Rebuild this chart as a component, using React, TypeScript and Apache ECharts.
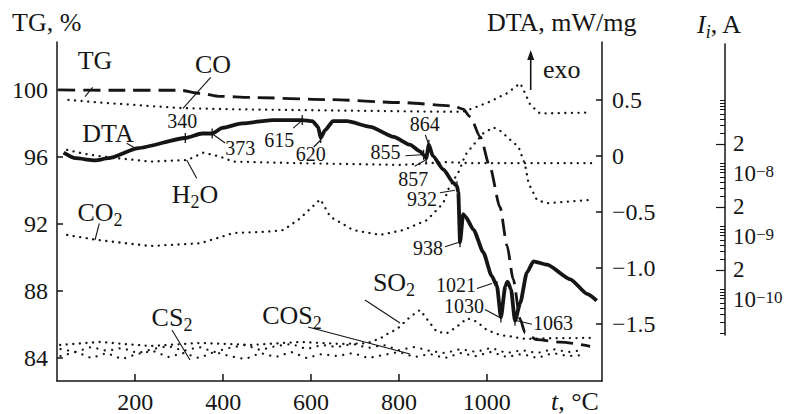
import React, { useEffect, useRef } from 'react';
import * as echarts from 'echarts';

const FONT = '"Liberation Serif", "Times New Roman", serif';
const INK = '#151515';

// ---- axis ticks ----
const xTicks = [200, 400, 600, 800, 1000];
const tgTicks = [84, 88, 92, 96, 100];
const dtaTicks = [-1.5, -1.0, -0.5, 0, 0.5];
const currentDecadeLabels = [-10, -9, -8];
const currentTwoTicks = [2e-10, 2e-9, 2e-8];
const currentMinorDecades = [-11, -10, -9, -8, -7];
const currentMultipliers = [1, 2, 3, 4, 5, 6, 7, 8, 9];

// ---- TG (%) ----
const tgTemp = [25, 143, 302, 348, 393, 462, 643, 803, 924, 946, 962, 985, 1007, 1030, 1046, 1060, 1076, 1087, 1114, 1167, 1235];
const tgValue = [100, 99.98, 99.98, 99.8, 99.62, 99.55, 99.42, 99.25, 99.05, 98.85, 98.4, 97.2, 95.4, 93.0, 90.7, 88.7, 86.3, 85.5, 85.1, 84.95, 84.7];

// ---- DTA (mW/mg) ----
const dtaTemp = [37, 64, 109, 139, 207, 314, 352, 375, 398, 443, 512, 580, 603, 616, 622, 632, 650, 682, 735, 788, 825, 848, 856, 862, 868, 877, 901, 924, 932, 935, 939, 946, 951, 970, 992, 1011, 1023, 1032, 1042, 1047, 1055, 1064, 1076, 1091, 1106, 1137, 1190, 1228, 1250];
const dtaValue = [0.03, -0.02, -0.04, -0.02, 0.07, 0.16, 0.2, 0.2, 0.25, 0.29, 0.32, 0.32, 0.31, 0.26, 0.16, 0.23, 0.31, 0.31, 0.26, 0.17, 0.1, 0.04, 0.01, -0.02, 0.1, 0.0, -0.12, -0.24, -0.27, -0.32, -0.77, -0.52, -0.54, -0.66, -0.86, -1.07, -1.16, -1.44, -1.16, -1.12, -1.19, -1.47, -1.31, -1.04, -0.94, -0.97, -1.1, -1.23, -1.29];

// ---- ion currents I_i (A) ----
const coTemp = [48, 120, 234, 309, 423, 650, 894, 946, 969, 1007, 1046, 1076, 1087, 1099, 1121, 1235];
const coCurrent = [1.0e-7, 9.1e-8, 8.0e-8, 7.4e-8, 7.1e-8, 6.8e-8, 6.5e-8, 6.5e-8, 7.4e-8, 9.4e-8, 1.28e-7, 1.84e-7, 1.28e-7, 8.3e-8, 6.1e-8, 6.3e-8];

const h2oTemp = [45, 86, 127, 234, 318, 355, 393, 423, 575, 803, 909, 962, 1242];
const h2oCurrent = [1.61e-8, 1.39e-8, 1.26e-8, 1.05e-8, 1.11e-8, 1.46e-8, 1.26e-8, 1.05e-8, 9.9e-9, 9.3e-9, 1.03e-8, 9.9e-9, 9.9e-9];

const co2Temp = [45, 113, 234, 348, 423, 500, 537, 575, 621, 644, 696, 757, 810, 864, 901, 913, 937, 951, 966, 992, 1015, 1034, 1049, 1072, 1087, 1095, 1114, 1137, 1235];
const co2Current = [7.2e-10, 6.0e-10, 4.8e-10, 5.3e-10, 7.7e-10, 8.1e-10, 8.6e-10, 1.32e-9, 2.65e-9, 1.4e-9, 8.6e-10, 7.2e-10, 8.6e-10, 1.24e-9, 2.31e-9, 3.9e-9, 7.5e-9, 1.34e-8, 1.81e-8, 2.96e-8, 3.68e-8, 3.13e-8, 2.46e-8, 1.81e-8, 9.3e-9, 4.75e-9, 2.58e-9, 2.29e-9, 2.58e-9];

const so2Temp = [29, 120, 234, 348, 462, 575, 666, 727, 758, 776, 795, 826, 848, 871, 886, 909, 932, 955, 977, 1000, 1030, 1057, 1087, 1144, 1235];
const so2Current = [1.29e-11, 1.44e-11, 1.24e-11, 1.39e-11, 1.29e-11, 1.44e-11, 1.34e-11, 1.37e-11, 1.65e-11, 1.98e-11, 2.29e-11, 3.63e-11, 4.64e-11, 2.85e-11, 2.1e-11, 1.98e-11, 2.52e-11, 3.42e-11, 3.02e-11, 2.23e-11, 1.86e-11, 1.75e-11, 1.61e-11, 1.65e-11, 1.67e-11];

const baseTemp = [30, 65, 100, 135, 170, 205, 240, 275, 310, 345, 380, 415, 450, 485, 520, 555, 590, 625, 660, 695, 730, 765, 800, 835, 870, 905, 940, 975, 1010, 1045, 1080, 1115, 1150, 1185, 1220];
const cos2Current = [1.11e-11, 1.0e-11, 1.2e-11, 1.04e-11, 1.16e-11, 9.6e-12, 1.11e-11, 1.24e-11, 1.04e-11, 1.2e-11, 1.0e-11, 1.16e-11, 1.29e-11, 1.07e-11, 1.24e-11, 1.34e-11, 1.11e-11, 1.29e-11, 1.2e-11, 1.34e-11, 1.16e-11, 1.29e-11, 1.07e-11, 1.2e-11, 1.04e-11, 9.6e-12, 1.11e-11, 1.0e-11, 1.16e-11, 9.6e-12, 1.07e-11, 9.6e-12, 1.11e-11, 1.0e-11, 1.07e-11];
const cs2Current = [8.6e-12, 1.0e-11, 8.0e-12, 9.6e-12, 7.7e-12, 9.3e-12, 1.04e-11, 8.3e-12, 9.6e-12, 8.0e-12, 1.0e-11, 8.6e-12, 7.7e-12, 9.6e-12, 8.3e-12, 1.0e-11, 8.0e-12, 9.3e-12, 8.6e-12, 9.6e-12, 8.0e-12, 8.95e-12, 1.0e-11, 8.3e-12, 9.3e-12, 8.0e-12, 9.6e-12, 8.6e-12, 1.0e-11, 8.3e-12, 9.3e-12, 8.0e-12, 9.6e-12, 8.6e-12, 8.95e-12];

// ---- DTA temperature annotations (anchor = index into dta arrays) ----
const dtaNoteLabels = ['340', '373', '615', '620', '855', '857', '864', '932', '938', '1021', '1030', '1063'];
const dtaNoteAnchor = [5, 7, 11, 14, 22, 23, 24, 28, 30, 36, 37, 41];
// layout: text offset [dx, dy] and leader [x1, y1, x2, y2] relative to anchor pixel
const noteLayout = [
  { dx: -3, dy: -17, lead: null },
  { dx: 28, dy: 14, lead: [1, 1, 13, 9.5] },
  { dx: -23, dy: 20, lead: [-1, 1, -9, 8] },
  { dx: -10, dy: 16, lead: [0, 2, -7, 9] },
  { dx: -38, dy: -3, lead: [-18, 1, -2, 0] },
  { dx: -13, dy: 21, lead: [-11.5, 8, -1, 2] },
  { dx: -4, dy: -21, lead: [-3.5, -10, -0.5, -1] },
  { dx: -35, dy: 13, lead: [-17, 6.5, -2, 4] },
  { dx: -32, dy: 6, lead: [-15, 4.5, -1, 0] },
  { dx: -41, dy: -1, lead: [-20, 2.5, -5, -2.5] },
  { dx: -37, dy: -11, lead: [-16, -8, -1, 0] },
  { dx: 38, dy: 2, lead: [2, 0, 17, 3.5] },
];

const pairs = (xs: number[], ys: number[]) => xs.map((x, i) => [x, ys[i]]);
const logPairs = (xs: number[], ys: number[]) => xs.map((x, i) => [x, Math.log10(ys[i])]);

const axisLineStyle = { color: INK, width: 1.5 };
const tickLabel = { fontFamily: FONT, fontSize: 24, color: INK };

const RICH_G = {
  b: { fontFamily: FONT, fontSize: 26, lineHeight: 26, verticalAlign: 'top', fill: INK },
  s: { fontFamily: FONT, fontSize: 18, lineHeight: 20, verticalAlign: 'top', padding: [11, 0, 0, 0], fill: INK },
  i: { fontFamily: FONT, fontSize: 26, lineHeight: 26, verticalAlign: 'top', fontStyle: 'italic', fill: INK },
  is: { fontFamily: FONT, fontSize: 18, lineHeight: 20, verticalAlign: 'top', padding: [11, 0, 0, 0], fontStyle: 'italic', fill: INK },
};

function gText(x: number, y: number, text: string, align = 'center') {
  const hasSub = text.indexOf('{s|') >= 0 || text.indexOf('{is|') >= 0;
  return {
    type: 'text', x, y: y + (hasSub ? 2.5 : 0), z: 50,
    style: { text, fontFamily: FONT, fontSize: 26, fill: INK, align, verticalAlign: 'middle', rich: RICH_G },
  };
}
function gLine(x1: number, y1: number, x2: number, y2: number, w = 1.1) {
  return { type: 'line', z: 50, shape: { x1, y1, x2, y2 }, style: { stroke: INK, lineWidth: w } };
}

export default function App() {
  const ref = useRef<HTMLDivElement>(null);
  useEffect(() => {
    if (!ref.current) return;
    const chart = echarts.init(ref.current, null, { renderer: 'svg' });

    const minorTicks: number[] = [];
    currentMinorDecades.forEach((d) => currentMultipliers.forEach((m) => {
      const v = Math.log10(m) + d;
      if (v >= -10.72 && v <= -6.99) minorTicks.push(v);
    }));
    const twoTicks = currentTwoTicks.map((v) => Math.log10(v));
    const iMin = -10.731, iMax = -6.112;

    const dotted = { type: [0.1, 6.5], width: 2.3, color: INK, cap: 'round' };
    const sparse = { type: [0.1, 7.5], width: 2.2, color: INK, cap: 'round' };
    const msSeries = (name: string, data: number[][], style: any = dotted) => ({
      name, type: 'line', xAxisIndex: 1, yAxisIndex: 2, data, showSymbol: false, clip: false,
      lineStyle: style, silent: true, z: 2,
    });

    const option: any = {
      animation: false,
      backgroundColor: '#ffffff',
      grid: [
        { left: 57, right: 189, top: 42, bottom: 32 },
        { left: 57, right: 189, top: 44, height: 291 },
      ],
      xAxis: [
        {
          type: 'value', gridIndex: 0, min: 22, max: 1262,
          axisLine: { onZero: false, lineStyle: axisLineStyle },
          axisTick: { inside: true, length: 7, customValues: xTicks, lineStyle: axisLineStyle },
          axisLabel: { ...tickLabel, margin: 9, customValues: xTicks, formatter: (v: number) => String(v) },
          splitLine: { show: false },
        },
        { type: 'value', gridIndex: 1, min: 22, max: 1262, show: false },
      ],
      yAxis: [
        {
          type: 'value', gridIndex: 0, position: 'left', min: 82.63, max: 102.86,
          axisLine: { show: true, onZero: false, lineStyle: axisLineStyle },
          axisTick: { show: true, inside: true, length: 6, customValues: tgTicks, lineStyle: axisLineStyle },
          axisLabel: { ...tickLabel, margin: 9, customValues: tgTicks, formatter: (v: number) => String(v) },
          splitLine: { show: false },
        },
        {
          type: 'value', gridIndex: 0, position: 'right', min: -2.007, max: 1.016,
          axisLine: { show: true, onZero: false, lineStyle: axisLineStyle },
          axisTick: { show: true, inside: true, length: 6, customValues: dtaTicks, lineStyle: axisLineStyle },
          axisLabel: {
            ...tickLabel, margin: 10, customValues: dtaTicks,
            formatter: (v: number) => (v === 0 ? '0' : (v < 0 ? '\u2212' : '') + Math.abs(v).toFixed(1)),
          },
          splitLine: { show: false },
        },
        {
          type: 'value', gridIndex: 1, position: 'right', offset: 123, min: iMin, max: iMax,
          axisLine: { show: true, onZero: false, lineStyle: axisLineStyle },
          axisTick: { show: true, inside: true, length: 5, customValues: minorTicks, lineStyle: { color: INK, width: 1 } },
          axisLabel: { show: false },
          splitLine: { show: false },
        },
        {
          type: 'value', gridIndex: 1, position: 'right', offset: 123, min: iMin, max: iMax,
          axisLine: { show: false },
          axisTick: { show: true, inside: true, length: 9, customValues: twoTicks, lineStyle: { color: INK, width: 1.2 } },
          axisLabel: { fontFamily: FONT, fontSize: 23, color: INK, margin: 8, customValues: twoTicks, formatter: () => '2' },
          splitLine: { show: false },
        },
        {
          type: 'value', gridIndex: 1, position: 'right', offset: 123, min: iMin, max: iMax,
          axisLine: { show: false },
          axisTick: { show: false },
          axisLabel: {
            margin: 8, customValues: currentDecadeLabels, verticalAlign: 'top',
            formatter: (v: number) => `{b|10}{s|\u2212${Math.abs(v)}}`,
            rich: {
              b: { fontFamily: FONT, fontSize: 23, lineHeight: 22, color: INK },
              s: { fontFamily: FONT, fontSize: 17, lineHeight: 12, verticalAlign: 'top', color: INK },
            },
          },
          splitLine: { show: false },
        },
      ],
      series: [
        {
          name: 'TG', type: 'line', xAxisIndex: 0, yAxisIndex: 0, data: pairs(tgTemp, tgValue),
          showSymbol: false, smooth: 0.25, smoothMonotone: 'x',
          lineStyle: { type: [17, 8], width: 2.8, color: INK }, z: 3,
        },
        {
          name: 'DTA', type: 'line', xAxisIndex: 0, yAxisIndex: 1, data: pairs(dtaTemp, dtaValue),
          showSymbol: false, smooth: 0.2, smoothMonotone: 'x',
          lineStyle: { width: 3.8, color: INK, join: 'round' }, z: 4,
        },
        msSeries('CO', logPairs(coTemp, coCurrent)),
        msSeries('H2O', logPairs(h2oTemp, h2oCurrent)),
        msSeries('CO2', logPairs(co2Temp, co2Current)),
        msSeries('SO2', logPairs(so2Temp, so2Current)),
        msSeries('COS2', logPairs(baseTemp, cos2Current), sparse),
        msSeries('CS2', logPairs(baseTemp, cs2Current), sparse),
        {
          name: 'notes', type: 'custom', xAxisIndex: 0, yAxisIndex: 1, z: 10, silent: true,
          data: dtaNoteAnchor.map((k) => [dtaTemp[k], dtaValue[k]]),
          renderItem: (params: any, api: any) => {
            const i = params.dataIndex;
            const L = noteLayout[i];
            const p = api.coord([api.value(0), api.value(1)]);
            const children: any[] = [
              { type: 'line', shape: { x1: p[0], y1: p[1] - 5, x2: p[0], y2: p[1] + 5 }, style: { stroke: INK, lineWidth: 1.3 } },
              {
                type: 'text', x: p[0] + L.dx, y: p[1] + L.dy,
                style: { text: dtaNoteLabels[i], fontFamily: FONT, fontSize: 20, fill: INK, align: 'center', verticalAlign: 'middle' },
              },
            ];
            if (L.lead) {
              children.push({
                type: 'line',
                shape: { x1: p[0] + L.lead[0], y1: p[1] + L.lead[1], x2: p[0] + L.lead[2], y2: p[1] + L.lead[3] },
                style: { stroke: INK, lineWidth: 1.1 },
              });
            }
            return { type: 'group', children };
          },
        },
      ],
      graphic: [
        gText(12, 22, '{b|TG, %}', 'left'),
        gText(487, 22, '{b|DTA, mW/mg}', 'left'),
        gText(697, 22, '{i|I}{is|i}{b|, A}', 'left'),
        gText(551, 401, '{i|t}{b|, °C}', 'left'),
        gText(95, 60, '{b|TG}'), gLine(92.7, 87.3, 85, 96.7),
        gText(213, 64, '{b|CO}'), gLine(210.7, 77.3, 183, 108.3),
        gText(108, 133, '{b|DTA}'), gLine(126.7, 143.3, 138.3, 150),
        gText(195, 192, '{b|H}{s|2}{b|O}'), gLine(186.7, 160, 196.7, 178.3),
        gText(100, 210, '{b|CO}{s|2}'), gLine(99.3, 223.3, 95, 240),
        gText(394, 280, '{b|SO}{s|2}'), gLine(365, 300, 400, 323),
        gText(292, 313, '{b|COS}{s|2}'), gLine(308, 327, 410, 354),
        gText(172, 315, '{b|CS}{s|2}'), gLine(172, 330, 190, 360),
        gLine(530.7, 90, 530.7, 56, 1.6),
        { type: 'polygon', z: 50, shape: { points: [[527.2, 60], [530.7, 50], [534.2, 60]] }, style: { fill: INK } },
        gText(543, 69, '{b|exo}', 'left'),
      ],
    };
    chart.setOption(option);
    return () => chart.dispose();
  }, []);
  return <div ref={ref} style={{ position: 'fixed', left: 0, top: 0, width: 791, height: 414, background: '#fff' }} />;
}
